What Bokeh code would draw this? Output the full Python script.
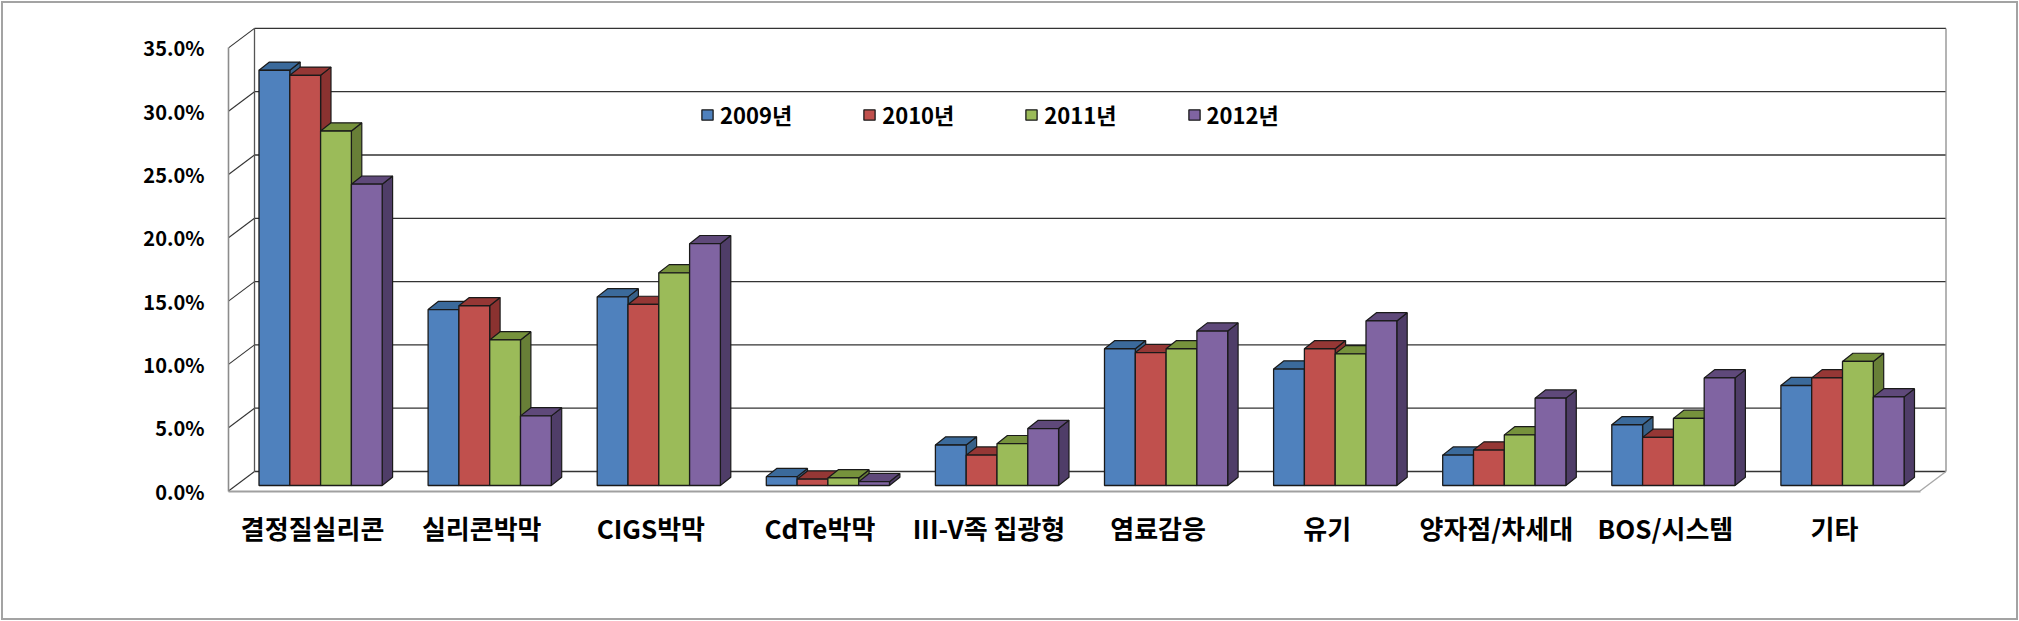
from bokeh.plotting import figure
from bokeh.models import (Range1d, LinearAxis, FixedTicker, PrintfTickFormatter, Legend, LegendItem,
                          ColumnDataSource)
from bokeh.embed import file_html
from bokeh.resources import INLINE

categories = ["결정질실리콘", "실리콘박막", "CIGS박막", "CdTe박막", "III-V족 집광형",
              "염료감응", "유기", "양자점/차세대", "BOS/시스템", "기타"]
series_names = ["2009년", "2010년", "2011년", "2012년"]
v2009 = [32.8, 13.9, 14.9, 0.7, 3.2, 10.8, 9.2, 2.4, 4.8, 7.9]
v2010 = [32.4, 14.2, 14.3, 0.5, 2.4, 10.5, 10.8, 2.8, 3.8, 8.5]
v2011 = [28.0, 11.5, 16.8, 0.6, 3.3, 10.8, 10.4, 4.0, 5.3, 9.8]
v2012 = [23.8, 5.5, 19.1, 0.3, 4.5, 12.2, 13.0, 6.9, 8.5, 7.0]
y_ticks = [0, 5, 10, 15, 20, 25, 30, 35]

front_colors = ["#4F81BD", "#C0504D", "#9BBB59", "#8064A2"]
top_colors = ["#3B6A9B", "#953735", "#76923C", "#5F497A"]
side_colors = ["#376189", "#8A3230", "#687F37", "#4F3D68"]
GRID = "#333333"
AXIS = "#8c8c8c"
FONT = "Noto Sans CJK KR"

# page geometry (px on the page)
W, H = 2019, 621
FL, FR, FT, FB = 228, 1950, 26, 491          # frame edges
PX_PER_PCT = 12.66
PX_PER_GROUP = 169.1
LABEL0 = 312.1                               # page x of first category tick
BAR_W = 30.8
BAR0_OFFSET = 258.5 - LABEL0                 # first bar's left edge from the tick
BAR_ZERO = 485.0                             # page y of bar bases
FRONT_ZERO = 490.5                           # page y of the front axis zero
WALL_DX, WALL_DY = 26.0, 19.5
BAR_DX, BAR_DY = 10.4, 8.2
FLOOR_RIGHT = 1919.5

ux = 1.0 / PX_PER_GROUP
uy = 1.0 / PX_PER_PCT

p = figure(width=W, height=H, output_backend="svg", toolbar_location=None,
           x_range=Range1d((FL - LABEL0) * ux, (FR - LABEL0) * ux),
           y_range=Range1d((BAR_ZERO - FB) * uy, (BAR_ZERO - FT) * uy),
           min_border_left=FL, min_border_right=W - FR,
           min_border_top=FT, min_border_bottom=H - FB,
           background_fill_color="white", border_fill_color=None,
           outline_line_color=None, x_axis_type=None, y_axis_type=None,
           styles={"outline": "2px solid #a3a3a3", "outline-offset": "-3px"})
p.grid.visible = False
p.extra_y_ranges = {"front": Range1d((FRONT_ZERO - FB) * uy, (FRONT_ZERO - FT) * uy)}

# 3-D box: drawn in the front-axis range
x_front_l = (FL - LABEL0) * ux
x_wall_l = (FL + WALL_DX - LABEL0) * ux
x_wall_r = (FLOOR_RIGHT + WALL_DX - LABEL0) * ux
x_front_r = (FLOOR_RIGHT - LABEL0) * ux
dy_wall = WALL_DY * uy

p.segment(x0=[x_wall_l] * len(y_ticks), x1=[x_wall_r] * len(y_ticks),
          y0=[t + dy_wall for t in y_ticks], y1=[t + dy_wall for t in y_ticks],
          y_range_name="front", line_color=GRID, line_width=1.3)
p.segment(x0=[x_front_l] * (len(y_ticks)), x1=[x_wall_l] * (len(y_ticks)),
          y0=y_ticks, y1=[t + dy_wall for t in y_ticks],
          y_range_name="front", line_color=GRID, line_width=1.1)
p.segment(x0=[x_wall_l], x1=[x_wall_l], y0=[dy_wall], y1=[y_ticks[-1] + dy_wall],
          y_range_name="front", line_color="#555555", line_width=1.3)
p.segment(x0=[x_wall_r], x1=[x_wall_r], y0=[dy_wall], y1=[y_ticks[-1] + dy_wall],
          y_range_name="front", line_color="#8c8c8c", line_width=1.3)
p.segment(x0=[x_front_r], x1=[x_wall_r], y0=[0], y1=[dy_wall],
          y_range_name="front", line_color="#a6a6a6", line_width=1.3)

# bars, painted left to right
legend_items = []
for j, (name, vals) in enumerate(zip(series_names, [v2009, v2010, v2011, v2012])):
    lefts = [i + (BAR0_OFFSET + j * BAR_W) * ux for i in range(len(vals))]
    rights = [x + BAR_W * ux for x in lefts]
    dx, dy = BAR_DX * ux, BAR_DY * uy
    tops_x = [[l, r, r + dx, l + dx] for l, r in zip(lefts, rights)]
    tops_y = [[v, v, v + dy, v + dy] for v in vals]
    side_x = [[r, r + dx, r + dx, r] for r in rights]
    side_y = [[0, dy, v + dy, v] for v in vals]
    p.patches(side_x, side_y, fill_color=side_colors[j], line_color="#1a1a1a", line_width=1.2)
    p.patches(tops_x, tops_y, fill_color=top_colors[j], line_color="#1a1a1a", line_width=1.2)
    src = ColumnDataSource(dict(left=lefts, right=rights, top=vals, bottom=[0] * len(vals)))
    r = p.quad(left="left", right="right", top="top", bottom="bottom", source=src,
               fill_color=front_colors[j], line_color="#1a1a1a", line_width=1.3)
    legend_items.append(LegendItem(label=name, renderers=[r]))

# axes
left_axis = LinearAxis(y_range_name="front", ticker=FixedTicker(ticks=y_ticks),
                       formatter=PrintfTickFormatter(format="%.1f%%"),
                       bounds=(y_ticks[0], y_ticks[-1]),
                       axis_line_color=AXIS, axis_line_width=1.6,
                       major_tick_in=0, major_tick_out=0, minor_tick_in=0, minor_tick_out=0,
                       major_label_standoff=24,
                       major_label_text_font=FONT, major_label_text_font_style="bold",
                       major_label_text_font_size="20px", major_label_text_color="#000000")
p.add_layout(left_axis, "left")

bottom_axis = LinearAxis(ticker=FixedTicker(ticks=list(range(len(categories)))),
                         major_label_overrides={i: c for i, c in enumerate(categories)},
                         bounds=(x_front_l, x_front_r),
                         axis_line_color="#a0a0a0", axis_line_width=2,
                         major_tick_in=0, major_tick_out=0, minor_tick_in=0, minor_tick_out=0,
                         major_label_standoff=17,
                         major_label_text_font=FONT, major_label_text_font_style="bold",
                         major_label_text_font_size="26px", major_label_text_color="#000000")
p.add_layout(bottom_axis, "below")

legend = Legend(items=legend_items, orientation="horizontal", location=(472, 361),
                glyph_width=14, glyph_height=13, label_standoff=6, spacing=70,
                padding=0, margin=0, border_line_color=None, background_fill_alpha=0,
                label_text_font=FONT, label_text_font_style="bold",
                label_text_font_size="22px", label_text_color="#000000")
p.add_layout(legend, "center")

open("out.html", "w").write(file_html(p, INLINE))
